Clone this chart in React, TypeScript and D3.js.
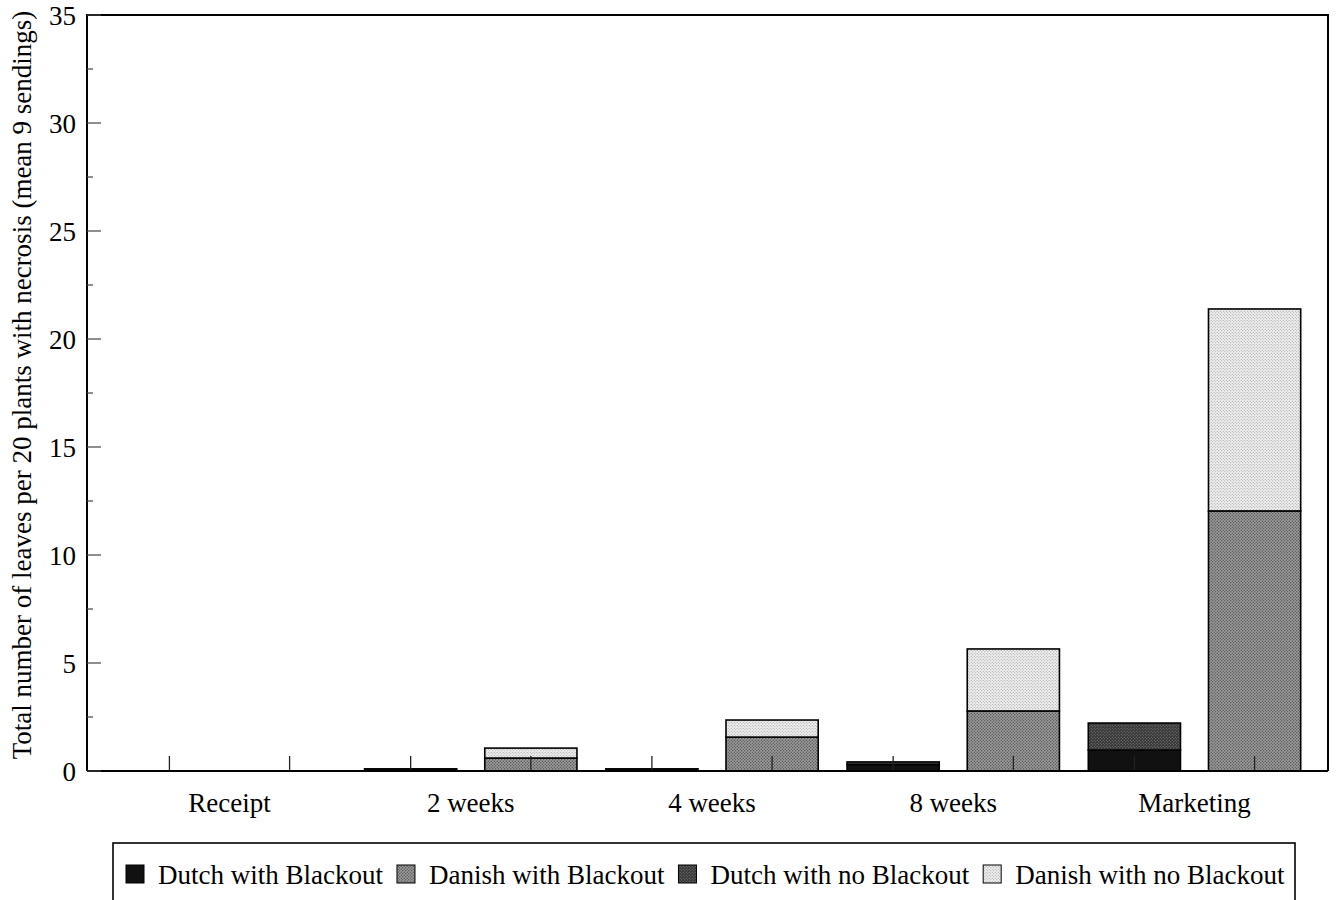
import React, { useEffect, useRef } from "react";
import * as d3 from "d3";

// Sampling stages and mean leaf counts (per 20 plants, mean of 9 sendings)
const categories = ["Receipt", "2 weeks", "4 weeks", "8 weeks", "Marketing"];
const dutchBlackout = [0, 0.1, 0.1, 0.3, 0.97];
const dutchNoBlackout = [0, 0, 0, 0.12, 1.25];
const danishBlackout = [0, 0.6, 1.57, 2.78, 12.04];
const danishNoBlackout = [0, 0.46, 0.79, 2.87, 9.35];

const seriesNames = [
  "Dutch with Blackout",
  "Danish with Blackout",
  "Dutch with no Blackout",
  "Danish with no Blackout",
];
const yTicks = [0, 5, 10, 15, 20, 25, 30, 35];
const yMinorTicks = [2.5, 7.5, 12.5, 17.5, 22.5, 27.5, 32.5];

const W = 1340;
const H = 900;
const FONT = "'Liberation Serif', 'DejaVu Serif', serif";
const FS = 27;

export default function App() {
  const ref = useRef<SVGSVGElement | null>(null);

  useEffect(() => {
    const svg = d3.select(ref.current);
    svg.selectAll("*").remove();

    const left = 87;
    const right = 1328;
    const top = 15;
    const bottom = 771;

    // halftone-like fills
    const defs = svg.append("defs");
    const mkPattern = (id: string, base: string, dot: string, size: number, r: number) => {
      const p = defs
        .append("pattern")
        .attr("id", id)
        .attr("width", size)
        .attr("height", size)
        .attr("patternUnits", "userSpaceOnUse");
      p.append("rect").attr("width", size).attr("height", size).attr("fill", base);
      p.append("circle").attr("cx", size / 4).attr("cy", size / 4).attr("r", r).attr("fill", dot);
      p.append("circle").attr("cx", (3 * size) / 4).attr("cy", (3 * size) / 4).attr("r", r).attr("fill", dot);
    };
    mkPattern("pDanB", "#9c9c9c", "#505050", 3, 0.7);
    mkPattern("pDutN", "#353535", "#8a8a8a", 3, 0.6);
    mkPattern("pDanN", "#f0f0f0", "#999", 3, 0.6);
    const fills = ["#111", "url(#pDanB)", "url(#pDutN)", "url(#pDanN)"];

    const x = d3
      .scaleBand<string>()
      .domain(categories)
      .range([92, 1332])
      .paddingInner(0)
      .paddingOuter(0.07);
    const inner = d3
      .scaleBand<string>()
      .domain(["Dutch", "Danish"])
      .range([0, x.step()])
      .paddingInner(0.233)
      .paddingOuter(0.12);
    const y = d3.scaleLinear().domain([0, 35]).range([bottom, top]);

    const g = svg.append("g");

    // stacked bars: Dutch (blackout + no blackout), Danish (blackout + no blackout)
    categories.forEach((c, i) => {
      const groups = [
        { key: "Dutch", parts: [dutchBlackout[i], dutchNoBlackout[i]], fill: [fills[0], fills[2]] },
        { key: "Danish", parts: [danishBlackout[i], danishNoBlackout[i]], fill: [fills[1], fills[3]] },
      ];
      groups.forEach((grp) => {
        const bx = (x(c) as number) + (inner(grp.key) as number);
        const bw = inner.bandwidth();
        let acc = 0;
        grp.parts.forEach((v, k) => {
          if (v <= 0) return;
          g.append("rect")
            .attr("x", bx)
            .attr("y", y(acc + v))
            .attr("width", bw)
            .attr("height", y(acc) - y(acc + v))
            .attr("fill", grp.fill[k])
            .attr("stroke", "#000")
            .attr("stroke-width", 1.6);
          acc += v;
        });
        // small tick at bar centre
        const cx = bx + bw / 2;
        g.append("line")
          .attr("x1", cx)
          .attr("x2", cx)
          .attr("y1", bottom)
          .attr("y2", bottom - 15)
          .attr("stroke", "#222")
          .attr("stroke-width", 1.3);
      });
    });

    // frame
    g.append("path")
      .attr("d", `M${left},${bottom}V${top}H${right}V${bottom}`)
      .attr("fill", "none")
      .attr("stroke", "#000")
      .attr("stroke-width", 2);
    g.append("line")
      .attr("x1", left)
      .attr("x2", right)
      .attr("y1", bottom)
      .attr("y2", bottom)
      .attr("stroke", "#000")
      .attr("stroke-width", 2.2);

    // y ticks (inward)
    yTicks.forEach((t) => {
      g.append("line")
        .attr("x1", left)
        .attr("x2", left + 14)
        .attr("y1", y(t))
        .attr("y2", y(t))
        .attr("stroke", "#444")
        .attr("stroke-width", 1.2);
      g.append("text")
        .attr("x", left - 11)
        .attr("y", y(t))
        .attr("dy", "0.36em")
        .attr("text-anchor", "end")
        .attr("font-family", FONT)
        .attr("font-size", FS)
        .attr("fill", "#000")
        .text(String(t));
    });
    yMinorTicks.forEach((t) => {
      g.append("line")
        .attr("x1", left)
        .attr("x2", left + 6)
        .attr("y1", y(t))
        .attr("y2", y(t))
        .attr("stroke", "#444")
        .attr("stroke-width", 1.2);
    });

    // category labels
    categories.forEach((c) => {
      g.append("text")
        .attr("x", (x(c) as number) + x.bandwidth() / 2)
        .attr("y", 812)
        .attr("text-anchor", "middle")
        .attr("font-family", FONT)
        .attr("font-size", FS)
        .attr("fill", "#000")
        .text(c);
    });

    // y axis title
    g.append("text")
      .attr("transform", `translate(31,385) rotate(-90)`)
      .attr("text-anchor", "middle")
      .attr("font-family", FONT)
      .attr("font-size", FS)
      .attr("fill", "#000")
      .text("Total number of leaves per 20 plants with necrosis (mean 9 sendings)");

    // legend box
    const lg = svg.append("g");
    lg.append("rect")
      .attr("x", 113)
      .attr("y", 843)
      .attr("width", 1182)
      .attr("height", 80)
      .attr("fill", "#fff")
      .attr("stroke", "#000")
      .attr("stroke-width", 1.6);
    let cur = 126;
    seriesNames.forEach((name, i) => {
      lg.append("rect")
        .attr("x", cur)
        .attr("y", 865)
        .attr("width", 18)
        .attr("height", 18)
        .attr("fill", fills[i])
        .attr("stroke", "#000")
        .attr("stroke-width", 1);
      const t = lg
        .append("text")
        .attr("x", cur + 32)
        .attr("y", 884)
        .attr("font-family", FONT)
        .attr("font-size", FS)
        .attr("fill", "#000")
        .text(name);
      const w = (t.node() as SVGTextElement).getComputedTextLength();
      cur = cur + 32 + w + 14;
    });
  }, []);

  return (
    <svg
      ref={ref}
      width={W}
      height={H}
      style={{ position: "absolute", left: 0, top: 0, background: "#fff" }}
    />
  );
}
